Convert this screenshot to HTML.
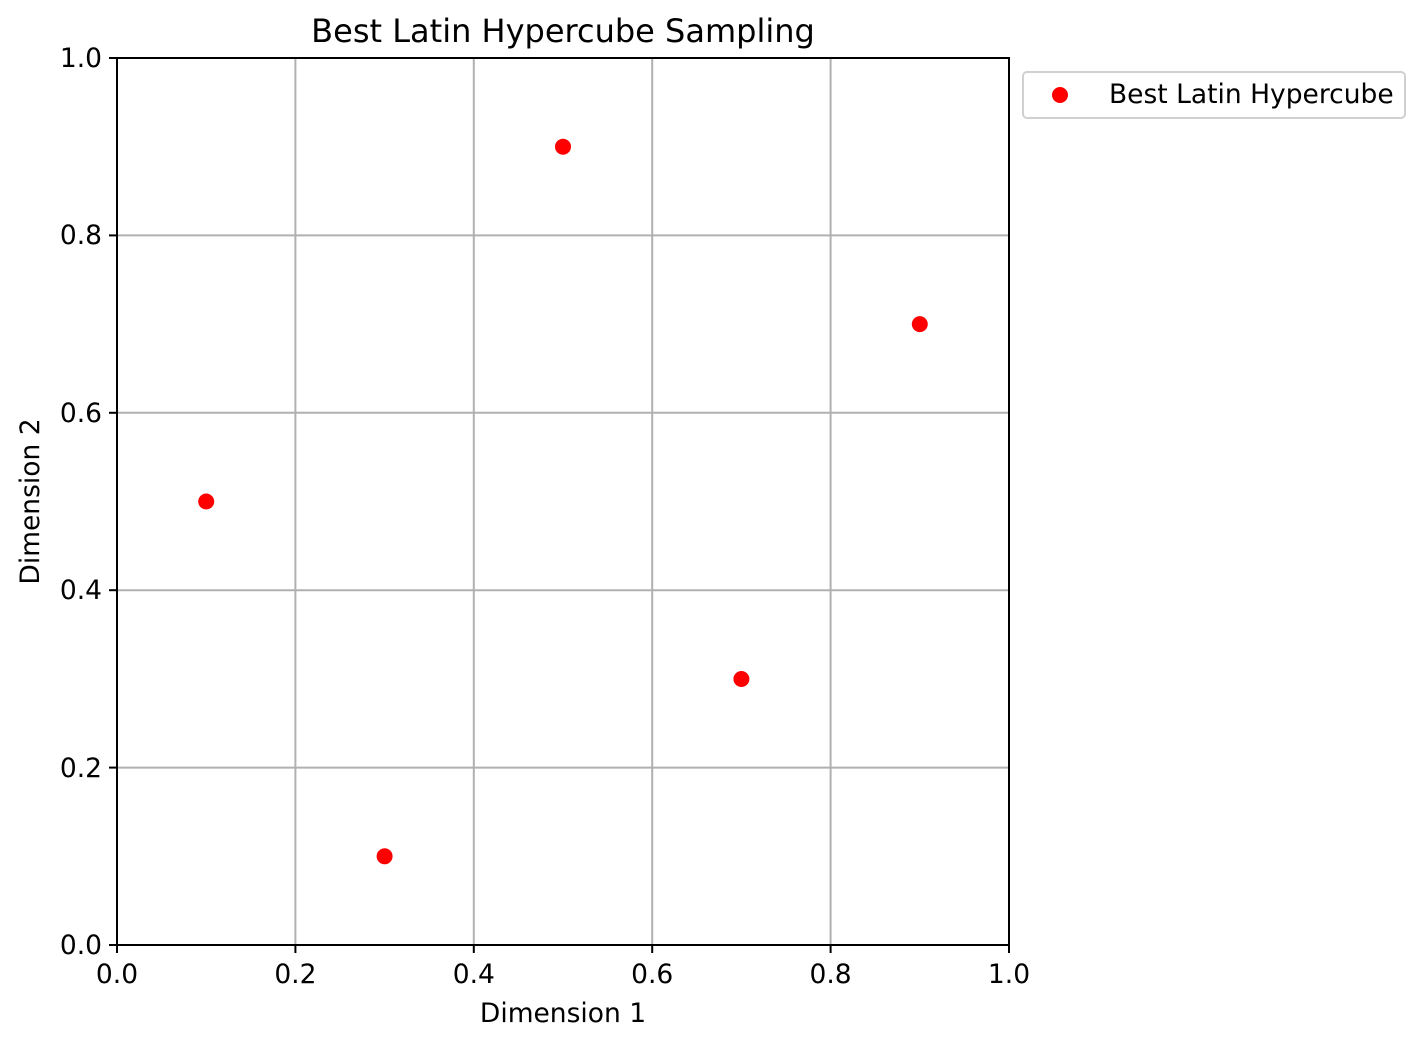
<!DOCTYPE html>
<html><head><style>body{margin:0;background:#fff}</style></head><body>
<svg width="1423" height="1046" xmlns="http://www.w3.org/2000/svg" font-family="DejaVu Sans, Liberation Sans, sans-serif">
<rect width="1423" height="1046" fill="#fff"/>
<g stroke="#b0b0b0" stroke-width="2">
<line x1="295.4" y1="58" x2="295.4" y2="945"/>
<line x1="473.8" y1="58" x2="473.8" y2="945"/>
<line x1="652.2" y1="58" x2="652.2" y2="945"/>
<line x1="830.6" y1="58" x2="830.6" y2="945"/>
<line x1="117" y1="767.6" x2="1009" y2="767.6"/>
<line x1="117" y1="590.2" x2="1009" y2="590.2"/>
<line x1="117" y1="412.8" x2="1009" y2="412.8"/>
<line x1="117" y1="235.4" x2="1009" y2="235.4"/>
</g>
<rect x="117" y="58" width="892" height="887" fill="none" stroke="#000" stroke-width="2"/>
<g stroke="#000" stroke-width="2">
<line x1="117" y1="945" x2="117" y2="953"/><line x1="295.4" y1="945" x2="295.4" y2="953"/><line x1="473.8" y1="945" x2="473.8" y2="953"/><line x1="652.2" y1="945" x2="652.2" y2="953"/><line x1="830.6" y1="945" x2="830.6" y2="953"/><line x1="1009" y1="945" x2="1009" y2="953"/>
<line x1="109" y1="945" x2="117" y2="945"/><line x1="109" y1="767.6" x2="117" y2="767.6"/><line x1="109" y1="590.2" x2="117" y2="590.2"/><line x1="109" y1="412.8" x2="117" y2="412.8"/><line x1="109" y1="235.4" x2="117" y2="235.4"/><line x1="109" y1="58" x2="117" y2="58"/>
</g>
<g font-size="26.5" fill="#000" text-anchor="middle">
<text x="117" y="983">0.0</text><text x="295.4" y="983">0.2</text><text x="473.8" y="983">0.4</text><text x="652.2" y="983">0.6</text><text x="830.6" y="983">0.8</text><text x="1009" y="983">1.0</text>
</g>
<g font-size="26.5" fill="#000" text-anchor="end">
<text x="102" y="954">0.0</text><text x="102" y="777">0.2</text><text x="102" y="599">0.4</text><text x="102" y="422">0.6</text><text x="102" y="244">0.8</text><text x="102" y="67">1.0</text>
</g>
<text x="563" y="1022" font-size="26.5" text-anchor="middle">Dimension 1</text>
<text transform="translate(39,501.5) rotate(-90)" font-size="26.5" text-anchor="middle">Dimension 2</text>
<text x="563" y="42" font-size="32" text-anchor="middle">Best Latin Hypercube Sampling</text>
<g fill="#ff0000">
<circle cx="206.2" cy="501.5" r="8"/><circle cx="384.6" cy="856.3" r="8"/><circle cx="563" cy="146.7" r="8"/><circle cx="741.4" cy="679" r="8"/><circle cx="919.8" cy="324.1" r="8"/>
</g>
<rect x="1023" y="72" width="382" height="46" rx="4" fill="#fff" stroke="#d0d0d0" stroke-width="2"/>
<circle cx="1060" cy="95" r="8" fill="#ff0000"/>
<text x="1109" y="103" font-size="26.5">Best Latin Hypercube</text>
</svg>
</body></html>
